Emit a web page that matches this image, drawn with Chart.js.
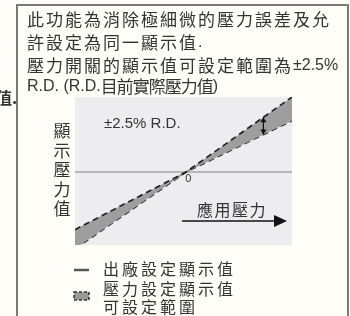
<!DOCTYPE html>
<html>
<head>
<meta charset="utf-8">
<script src="https://cdn.jsdelivr.net/npm/chart.js@4.4.1/dist/chart.umd.min.js"></script>
<style>
  body { margin: 0; background: #fffef8; }
  #c { display: block; }
</style>
</head>
<body>
<canvas id="c" width="350" height="316"></canvas>
<script>
// 應用壓力 (x) 與 顯示壓力值 (y)
const pressX = [-1.05, 0, 1.0];
const factoryLine = [-1.05, 0, 1.0];
const bandUpper = [-0.9, 0, 1.17];
const bandLower = [-1.2, 0, 0.8];

const titleLines = ['此功能為消除極細微的壓力誤差及允', '許設定為同一顯示值.', '壓力開關的顯示值可設定範圍為±2.5%', 'R.D. (R.D.目前實際壓力值)'];
const yTitle = ['顯', '示', '壓', '力', '值'];
const xTitle = '應用壓力';
const bandLabel = '±2.5% R.D.';
const legendItems = ['出廠設定顯示值', '壓力設定顯示值', '可設定範圍'];

const CJK = '"Noto Sans CJK TC", "Noto Sans", sans-serif';
const LAT = '"Liberation Sans", Arial, sans-serif';
const ink = '#333';

// CJK chars get extra spacing, latin chars drawn tight
function txt(ctx, s, x, y, size, spacing) {
  ctx.textAlign = 'left';
  ctx.textBaseline = 'middle';
  ctx.fillStyle = ink;
  let cx = x;
  for (const ch of s) {
    const wide = ch.charCodeAt(0) > 0x2e80;
    ctx.font = wide ? size + 'px ' + CJK : (size - 1) + 'px ' + LAT;
    ctx.fillText(ch, cx, y);
    cx += ctx.measureText(ch).width + (wide ? spacing : 0);
  }
}

const decor = {
  id: 'decor',
  beforeDraw(chart) {
    const ctx = chart.ctx;
    const a = chart.chartArea;
    ctx.save();
    ctx.fillStyle = '#fffef8';
    ctx.fillRect(0, 0, 350, 316);
    // frame
    ctx.strokeStyle = '#7a7a7a';
    ctx.lineWidth = 2;
    ctx.strokeRect(17, 5, 331, 330);
    // grey panel
    ctx.fillStyle = '#ededef';
    ctx.fillRect(a.left, a.top, a.right - a.left, a.bottom - a.top);
    // zero line
    const y0 = chart.scales.y.getPixelForValue(0);
    ctx.strokeStyle = '#a5a5a5';
    ctx.lineWidth = 1.5;
    ctx.beginPath();
    ctx.moveTo(a.left, y0);
    ctx.lineTo(a.right, y0);
    ctx.stroke();
    ctx.restore();
  },
  afterDraw(chart) {
    const ctx = chart.ctx;
    const xs = chart.scales.x, ys = chart.scales.y;
    ctx.save();
    // titles
    const sp = [2, 2, 2, -1];
    titleLines.forEach((s, i) => txt(ctx, s, 27, [20, 43, 66, 87][i], 17, sp[i]));
    ctx.font = 'bold 16px ' + CJK;
    ctx.fillStyle = ink;
    ctx.textBaseline = 'middle';
    ctx.fillText('值.', -4, 98);
    // y title
    ctx.font = '17px ' + CJK;
    ctx.textAlign = 'center';
    yTitle.forEach((s, i) => ctx.fillText(s, 62, 131 + i * 19.5));
    // band label
    ctx.textAlign = 'left';
    ctx.font = '15px ' + LAT;
    ctx.fillText(bandLabel, 104, 124);
    ctx.font = '11px ' + LAT;
    ctx.fillText('0', xs.getPixelForValue(0) - 1, ys.getPixelForValue(0) + 7);
    // double arrow across band
    const ax = 0.73;
    const xp = xs.getPixelForValue(ax);
    const yu = ys.getPixelForValue(ax * bandUpper[2] / pressX[2]);
    const yl = ys.getPixelForValue(ax * bandLower[2] / pressX[2]);
    ctx.strokeStyle = '#111';
    ctx.fillStyle = '#111';
    ctx.lineWidth = 1.2;
    ctx.beginPath();
    ctx.moveTo(xp, yu);
    ctx.lineTo(xp, yl);
    ctx.stroke();
    [[yu, 1], [yl, -1]].forEach(([yy, d]) => {
      ctx.beginPath();
      ctx.moveTo(xp, yy);
      ctx.lineTo(xp - 3, yy + d * 5);
      ctx.lineTo(xp + 3, yy + d * 5);
      ctx.closePath();
      ctx.fill();
    });
    // x title with arrow
    txt(ctx, xTitle, 197, 210, 16, 1.5);
    ctx.strokeStyle = '#111';
    ctx.fillStyle = '#111';
    ctx.lineWidth = 1.5;
    ctx.beginPath();
    ctx.moveTo(182, 221);
    ctx.lineTo(276, 221);
    ctx.stroke();
    ctx.beginPath();
    ctx.moveTo(287, 221);
    ctx.lineTo(274, 215);
    ctx.lineTo(274, 227);
    ctx.closePath();
    ctx.fill();
    // legend
    ctx.strokeStyle = '#555';
    ctx.lineWidth = 2.5;
    ctx.beginPath();
    ctx.moveTo(74, 270);
    ctx.lineTo(89, 270);
    ctx.stroke();
    txt(ctx, legendItems[0], 103, 269, 16, 3);
    ctx.fillStyle = '#9a9a9a';
    ctx.fillRect(74, 292, 15, 8);
    ctx.strokeStyle = '#333';
    ctx.lineWidth = 1.5;
    ctx.setLineDash([3, 2]);
    ctx.strokeRect(74, 292, 15, 8);
    ctx.setLineDash([]);
    txt(ctx, legendItems[1], 103, 289, 16, 3);
    txt(ctx, legendItems[2], 103, 307, 16, 3);
    ctx.restore();
  }
};

const pts = arr => pressX.map((x, i) => ({ x: x, y: arr[i] }));

new Chart(document.getElementById('c'), {
  type: 'line',
  data: {
    datasets: [
      {
        label: 'upper',
        data: pts(bandUpper),
        borderColor: '#222',
        borderWidth: 1.7,
        borderDash: [6, 4],
        backgroundColor: '#9e9e9e',
        fill: '+1',
        pointRadius: 0,
        tension: 0
      },
      {
        label: 'lower',
        data: pts(bandLower),
        borderColor: '#222',
        borderWidth: 1.7,
        borderDash: [6, 4],
        fill: false,
        pointRadius: 0,
        tension: 0
      },
      {
        label: legendItems[0],
        data: pts(factoryLine),
        borderColor: '#555',
        borderWidth: 1.2,
        fill: false,
        pointRadius: 0,
        tension: 0
      }
    ]
  },
  options: {
    responsive: false,
    animation: false,
    layout: { padding: { left: 75, right: 58, top: 97, bottom: 71 } },
    scales: {
      x: { type: 'linear', min: -1.05, max: 1.0, display: false },
      y: { type: 'linear', min: -1.14, max: 1.17, display: false }
    },
    plugins: {
      legend: { display: false },
      tooltip: { enabled: false }
    }
  },
  plugins: [decor]
});
</script>
</body>
</html>
